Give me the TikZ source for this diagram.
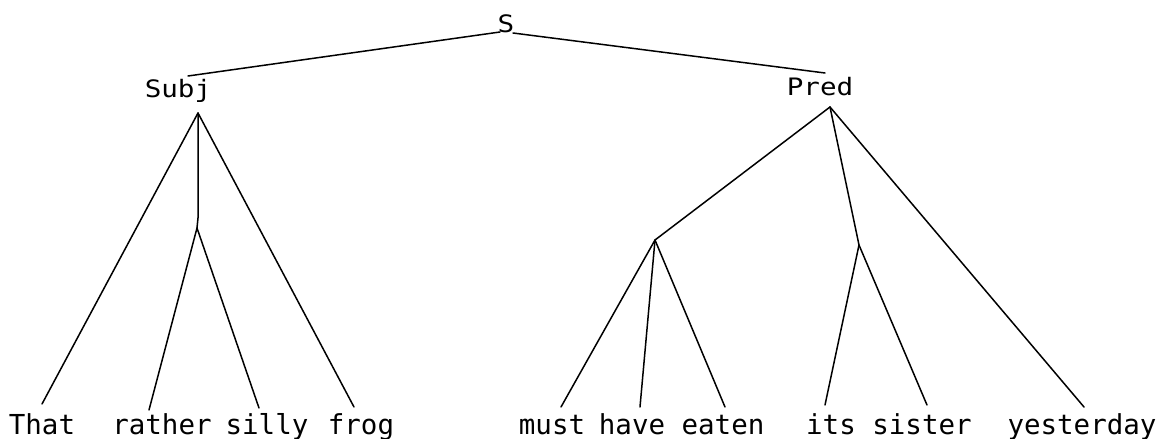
\documentclass[tikz,border=0pt]{standalone}
\usepackage{fontspec}
\newfontfamily\plotfont{DejaVu Sans Mono}
\newfontfamily\plotwide[FakeStretch=1.15]{DejaVu Sans Mono}
\begin{document}
\begin{tikzpicture}[x=1pt,y=-1pt,
  word/.style={anchor=base,inner sep=0pt,font=\plotfont\fontsize{27.5pt}{30pt}\selectfont},
  label/.style={anchor=base,inner sep=0pt,font=\plotwide\fontsize{24pt}{27pt}\selectfont},
  branch/.style={line width=1.5pt,line cap=round,black}]
\useasboundingbox (0,0) rectangle (1171,439);
% labels
\node[label] (S) at (506,32) {S};
\node[label] (Subj) at (178,97) {Subj};
\node[label] (Pred) at (820,95) {Pred};
% leaves
\node[word] (That) at (42,434) {That};
\node[word] (rather) at (162,434) {rather};
\node[word] (silly) at (267,434) {silly};
\node[word] (frog) at (361,434) {frog};
\node[word] (must) at (552,434) {must};
\node[word] (have) at (632,434) {have};
\node[word] (eaten) at (723,434) {eaten};
\node[word] (its) at (831,434) {its};
\node[word] (sister) at (922,434) {sister};
\node[word] (yesterday) at (1082,434) {yesterday};
% attachment points
\coordinate (sL) at (500,32);
\coordinate (sR) at (513,33);
\coordinate (subjT) at (188,76);
\coordinate (predT) at (825,73);
\coordinate (subjB) at (198,113);
\coordinate (predB) at (830,107);
\coordinate (j1) at (197,228);
\coordinate (j2) at (655,240);
\coordinate (j3) at (859,245);
\coordinate (tThat) at (42,404);
\coordinate (trather) at (149,410);
\coordinate (tsilly) at (259,408);
\coordinate (tfrog) at (354,407);
\coordinate (tmust) at (561,407);
\coordinate (thave) at (640,407);
\coordinate (teaten) at (725,407);
\coordinate (tits) at (825,405);
\coordinate (tsister) at (927,405);
\coordinate (tyest) at (1084,407);
% branches
\draw[branch] (sL) -- (subjT);
\draw[branch] (sR) -- (predT);
\draw[branch] (subjB) -- (tThat);
\draw[branch] (subjB) -- (198,218) -- (j1);
\draw[branch] (subjB) -- (tfrog);
\draw[branch] (j1) -- (trather);
\draw[branch] (j1) -- (tsilly);
\draw[branch] (predB) -- (j2);
\draw[branch] (predB) -- (j3);
\draw[branch] (predB) -- (tyest);
\draw[branch] (j2) -- (tmust);
\draw[branch] (j2) -- (thave);
\draw[branch] (j2) -- (teaten);
\draw[branch] (j3) -- (tits);
\draw[branch] (j3) -- (tsister);
\end{tikzpicture}
\end{document}
